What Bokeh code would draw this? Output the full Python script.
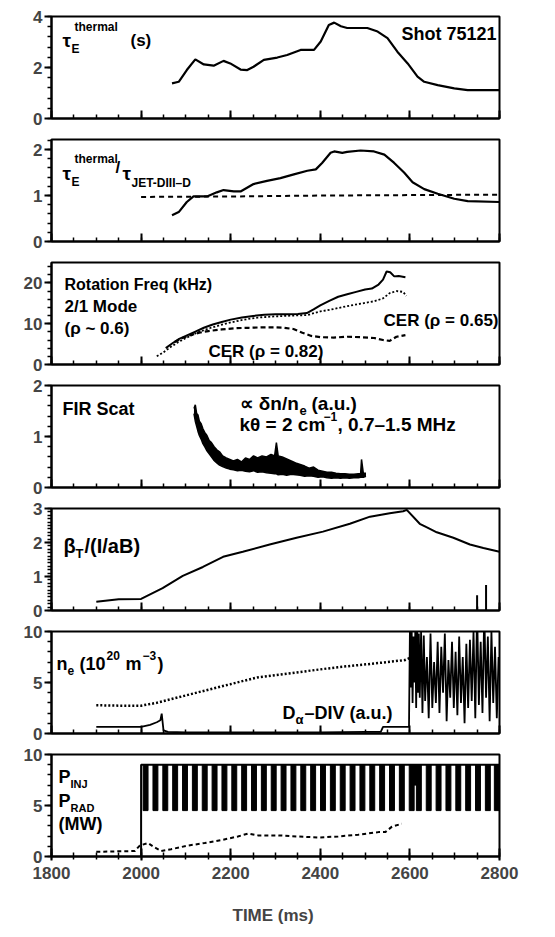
from bokeh.plotting import figure
from bokeh.layouts import column
from bokeh.models import Range1d, SingleIntervalTicker, Label
from bokeh.embed import file_html
from bokeh.resources import INLINE

FONT = "Liberation Sans"

# ---------------- data ----------------
# Panel 1: tau_E thermal (s)
tau_t = [2069, 2084, 2102, 2121, 2140, 2162, 2184, 2199, 2222, 2237, 2251, 2274, 2304, 2326, 2356, 2386,
         2401, 2419, 2431, 2446, 2460, 2505, 2528, 2550, 2572, 2595, 2617, 2632, 2662, 2699, 2729, 2800]
tau_v = [1.38, 1.44, 1.90, 2.32, 2.12, 2.07, 2.26, 2.16, 1.92, 1.90, 2.03, 2.30, 2.39, 2.49, 2.69, 2.69,
         3.02, 3.67, 3.76, 3.62, 3.55, 3.55, 3.41, 3.15, 2.62, 2.16, 1.64, 1.44, 1.31, 1.18, 1.11, 1.11]

# Panel 2: tau_E / tau_JET-DIII-D
ratio_t = [2069, 2084, 2102, 2117, 2147, 2169, 2184, 2207, 2222, 2251, 2281, 2311, 2341, 2371, 2390, 2404,
           2423, 2431, 2449, 2460, 2490, 2520, 2543, 2565, 2587, 2606, 2632, 2662, 2699, 2729, 2800]
ratio_v = [0.57, 0.64, 0.86, 0.98, 0.98, 1.07, 1.12, 1.09, 1.09, 1.25, 1.32, 1.38, 1.46, 1.54, 1.57, 1.71,
           1.93, 1.96, 1.93, 1.95, 1.98, 1.96, 1.89, 1.71, 1.50, 1.29, 1.14, 1.04, 0.93, 0.88, 0.86]
jet_t = [2000, 2200, 2400, 2600, 2800]
jet_v = [0.97, 0.98, 1.00, 1.01, 1.02]

# Panel 3: rotation frequency (kHz)
mode_t = [2055, 2070, 2085, 2100, 2120, 2140, 2160, 2180, 2200, 2225, 2250, 2275, 2300, 2325, 2350, 2370,
          2385, 2400, 2420, 2440, 2460, 2480, 2500, 2515, 2530, 2540, 2548, 2556, 2565, 2575, 2590]
mode_v = [4.0, 5.2, 6.3, 7.0, 8.0, 9.0, 9.8, 10.4, 11.0, 11.5, 11.9, 12.2, 12.3, 12.3, 12.4, 12.6,
          13.5, 14.5, 15.6, 16.6, 17.2, 17.8, 18.4, 18.6, 19.6, 20.8, 22.8, 22.6, 21.6, 21.7, 21.4]
cer65_t = [2035, 2050, 2065, 2080, 2100, 2125, 2150, 2175, 2200, 2230, 2260, 2300, 2340, 2370, 2400, 2430,
           2460, 2490, 2520, 2540, 2555, 2570, 2585, 2592]
cer65_v = [2.0, 3.0, 4.2, 5.3, 6.5, 7.8, 8.8, 9.6, 10.3, 11.0, 11.5, 11.8, 12.0, 12.1, 13.0, 13.6,
           14.3, 14.9, 15.5, 16.2, 17.5, 18.0, 17.8, 16.8]
cer82_t = [2075, 2090, 2110, 2130, 2150, 2180, 2210, 2240, 2270, 2300, 2320, 2340, 2360, 2380, 2400, 2430,
           2460, 2490, 2520, 2540, 2555, 2570, 2590]
cer82_v = [5.5, 6.4, 7.2, 7.8, 8.2, 8.6, 8.9, 9.0, 9.1, 9.1, 9.0, 8.7, 7.8, 7.0, 6.7, 6.6,
           6.8, 6.7, 6.5, 6.0, 5.8, 6.8, 7.2]

# Panel 4: FIR scattering band (upper / lower envelope)
fir_t = [2118, 2121, 2124, 2127, 2130, 2134, 2138, 2142, 2147, 2152, 2157, 2163, 2169, 2175, 2182, 2190,
         2198, 2206, 2215, 2224, 2233, 2242, 2251, 2260, 2270, 2280, 2290, 2298, 2302, 2306, 2315, 2325,
         2335, 2345, 2355, 2365, 2375, 2385, 2395, 2405, 2415, 2425, 2435, 2445, 2455, 2465, 2475, 2485,
         2490, 2492, 2496, 2502]
fir_hi = [1.55, 1.62, 1.45, 1.42, 1.30, 1.25, 1.15, 1.08, 1.02, 0.92, 0.88, 0.80, 0.74, 0.70, 0.62, 0.58,
          0.55, 0.52, 0.55, 0.50, 0.58, 0.55, 0.62, 0.58, 0.62, 0.60, 0.65, 0.62, 0.88, 0.62, 0.60, 0.56,
          0.52, 0.48, 0.45, 0.42, 0.38, 0.40, 0.34, 0.32, 0.30, 0.30, 0.28, 0.27, 0.27, 0.26, 0.26, 0.27,
          0.27, 0.55, 0.28, 0.28]
fir_lo = [1.45, 1.30, 1.20, 1.10, 1.02, 0.95, 0.86, 0.80, 0.72, 0.66, 0.60, 0.53, 0.48, 0.44, 0.41, 0.38,
          0.36, 0.35, 0.33, 0.34, 0.32, 0.31, 0.33, 0.30, 0.31, 0.29, 0.28, 0.27, 0.27, 0.25, 0.26, 0.24,
          0.26, 0.25, 0.24, 0.22, 0.23, 0.22, 0.20, 0.21, 0.19, 0.18, 0.19, 0.18, 0.19, 0.18, 0.19, 0.19,
          0.20, 0.20, 0.20, 0.22]

# Panel 5: beta_T / (I/aB)
beta_t = [1900, 1950, 2000, 2048, 2093, 2138, 2183, 2227, 2287, 2347, 2406, 2466, 2511, 2555, 2585, 2593,
          2622, 2637, 2660, 2697, 2734, 2764, 2800]
beta_v = [0.26, 0.33, 0.34, 0.66, 1.02, 1.28, 1.58, 1.73, 1.94, 2.14, 2.32, 2.55, 2.76, 2.86, 2.92, 2.96,
          2.55, 2.45, 2.30, 2.14, 1.94, 1.84, 1.73]
overflow_t = [2750, 2770]          # D-alpha spikes that run past the n_e panel
overflow_v = [0.45, 0.75]

# Panel 6: n_e and D_alpha
ne_t = [1900, 1950, 2000, 2034, 2079, 2139, 2199, 2259, 2319, 2379, 2439, 2514, 2589, 2600]
ne_v = [2.77, 2.73, 2.73, 3.0, 3.5, 4.17, 4.83, 5.5, 5.83, 6.17, 6.5, 6.83, 7.2, 7.4]
da_t = [1900, 1950, 2000, 2020, 2035, 2043, 2046, 2050, 2060, 2100, 2200, 2300, 2400, 2500, 2535, 2540, 2598,
        2600, 2602, 2604, 2606, 2608, 2610, 2612, 2614, 2616, 2618,
        2620, 2622, 2625, 2628, 2631, 2634, 2638, 2642, 2646, 2650,
        2654, 2658, 2662, 2666, 2670, 2674, 2678, 2682, 2686, 2690,
        2694, 2698, 2702, 2706, 2710, 2714, 2718, 2722, 2726, 2730,
        2734, 2738, 2742, 2746, 2750, 2754, 2758, 2762, 2766, 2770,
        2774, 2778, 2782, 2786, 2790, 2794, 2798]
da_v = [0.65, 0.65, 0.65, 0.85, 1.1, 1.3, 1.95, 0.3, 0.15, 0.1, 0.1, 0.12, 0.12, 0.15, 0.15, 0.65, 0.65,
        10, 4.5, 10, 3.0, 9.5, 5.0, 10, 2.5, 10, 4.0,
        9.8, 3.5, 10, 2.0, 9.6, 3.2, 7.5, 1.5, 9.8, 2.5,
        7.0, 3.0, 9.0, 2.0, 8.5, 4.0, 9.8, 1.2, 7.2, 3.5,
        9.0, 2.5, 8.0, 1.8, 9.5, 3.0, 7.5, 1.0, 8.8, 2.5,
        9.2, 3.2, 10, 1.5, 12, 2.8, 9.0, 2.0, 12, 3.5,
        9.5, 1.2, 10, 3.0, 8.5, 1.5, 7.5]

# Panel 7: P_INJ and P_RAD (MW)
pinj_t = [2000, 2000, 2800]
pinj_v = [0, 9, 9]
pinj_bar_t = [2010, 2032, 2054, 2076, 2098, 2120, 2142, 2164, 2186, 2208, 2230, 2252, 2274, 2296, 2318,
              2340, 2362, 2384, 2406, 2428, 2450, 2472, 2494, 2516, 2538, 2560, 2582, 2604, 2620, 2642,
              2664, 2686, 2708, 2730, 2752, 2774, 2794]
pinj_low = 4.5
pinj_high = 9.0
pinj_dip_t = [2612]      # short stretch near 2610 ms where the modulated power only drops to ~7 MW
pinj_dip_w = [18]
pinj_dip_v = [7.0]
prad_t = [1900, 1986, 1997, 2015, 2030, 2045, 2067, 2104, 2142, 2179, 2216, 2239, 2261, 2306, 2351, 2396,
          2440, 2485, 2530, 2545, 2560, 2582]
prad_v = [0.46, 0.54, 1.07, 1.32, 0.89, 0.54, 0.71, 1.07, 1.32, 1.61, 1.96, 2.25, 2.07, 2.07, 1.96, 1.86,
          1.96, 2.14, 2.39, 2.39, 2.93, 3.21]

x_ticks = [1800, 2000, 2200, 2400, 2600, 2800]
y_max = [4, 2.22, 25, 2, 3, 10, 10]
y_step = [2, 1, 10, 1, 1, 5, 5]
y_minor = [5, 5, 5, 5, 10, 5, 5]

# ---------------- layout helpers ----------------
FRAME_L = 51
FRAME_W = 448
FRAME_H = 102
TOPS = [16, 139, 262, 385, 508, 631, 754]   # page pixel of each frame top
x_range = Range1d(1800, 2800)


def px2x(px):
    return 1800 + (px - FRAME_L) * 1000.0 / FRAME_W


def py2y(k, py):
    return y_max[k] * (TOPS[k] + FRAME_H - py) / FRAME_H


def make_fig(k):
    last = (k == 6)
    p = figure(frame_width=FRAME_W, frame_height=FRAME_H, x_range=x_range, y_range=Range1d(0, y_max[k]),
               output_backend="svg", toolbar_location=None,
               min_border_left=FRAME_L, min_border_right=30,
               min_border_top=(16 if k == 0 else 10), min_border_bottom=(78 if last else 11))
    p.background_fill_color = "white"
    p.border_fill_color = "white"
    p.outline_line_color = "black"
    p.outline_line_width = 2
    p.xgrid.visible = False
    p.ygrid.visible = False

    xa = p.xaxis[0]
    xa.ticker = SingleIntervalTicker(interval=200, num_minor_ticks=4)
    xa.axis_line_width = 2
    xa.major_tick_line_width = 2
    xa.minor_tick_line_width = 1.5
    xa.major_tick_in = 8
    xa.minor_tick_in = 4
    if last:
        xa.major_tick_out = 4
        xa.minor_tick_out = 3
        xa.major_label_text_font = FONT
        xa.major_label_text_font_size = "17px"
        xa.major_label_text_font_style = "bold"
        xa.major_label_standoff = 6
        xa.axis_label = "TIME  (ms)"
        xa.axis_label_text_font = FONT
        xa.axis_label_text_font_size = "17px"
        xa.axis_label_text_font_style = "bold"
        xa.axis_label_standoff = 24
    else:
        xa.major_tick_out = 0
        xa.minor_tick_out = 0
        xa.major_label_text_color = None
        xa.major_label_text_font_size = "0px"
        xa.major_label_standoff = 0

    ya = p.yaxis[0]
    ya.ticker = SingleIntervalTicker(interval=y_step[k], num_minor_ticks=y_minor[k])
    ya.axis_line_width = 2
    ya.major_tick_line_width = 2
    ya.minor_tick_line_width = 1.5
    ya.major_tick_out = 7
    ya.major_tick_in = 0
    ya.minor_tick_out = 4
    ya.minor_tick_in = 0
    ya.major_label_text_font = FONT
    ya.major_label_text_font_size = "17px"
    ya.major_label_text_font_style = "bold"
    ya.major_label_standoff = 2
    return p


def lab(p, k, px, py, text, size=17, align="left"):
    p.add_layout(Label(x=px2x(px), y=py2y(k, py), text=text, text_font=FONT,
                       text_font_size=f"{size}px", text_font_style="bold", text_color="black",
                       text_align=align, text_baseline="middle"))


figs = [make_fig(k) for k in range(7)]
p1, p2, p3, p4, p5, p6, p7 = figs

# Panel 1
p1.line(tau_t, tau_v, line_color="black", line_width=2.2)
lab(p1, 0, 62, 40, "τ", 19)
lab(p1, 0, 71, 48, "E", 12)
lab(p1, 0, 74, 26, "thermal", 12)
lab(p1, 0, 130, 40, "(s)", 17)
lab(p1, 0, 496, 33, "Shot 75121", 18, "right")

# Panel 2
p2.line(ratio_t, ratio_v, line_color="black", line_width=2.2)
p2.line(jet_t, jet_v, line_color="black", line_width=2, line_dash="5 4")
lab(p2, 1, 62, 173, "τ", 19)
lab(p2, 1, 71, 181, "E", 12)
lab(p2, 1, 74, 158, "thermal", 12)
lab(p2, 1, 115, 167, "/", 17)
lab(p2, 1, 122, 173, "τ", 19)
lab(p2, 1, 131, 182, "JET-DIII–D", 12)

# Panel 3
p3.line(mode_t, mode_v, line_color="black", line_width=2)
p3.line(cer65_t, cer65_v, line_color="black", line_width=1.8, line_dash="2 2")
p3.line(cer82_t, cer82_v, line_color="black", line_width=2.2, line_dash="5 3")
lab(p3, 2, 64, 284, "Rotation Freq (kHz)", 16)
lab(p3, 2, 64, 306, "2/1 Mode", 17)
lab(p3, 2, 64, 328, "(ρ ~ 0.6)", 17)
lab(p3, 2, 498, 320, "CER (ρ = 0.65)", 17, "right")
lab(p3, 2, 208, 351, "CER (ρ = 0.82)", 17)

# Panel 4
p4.varea(x=fir_t, y1=fir_lo, y2=fir_hi, fill_color="black")
p4.line(fir_t, fir_hi, line_color="black", line_width=1.5)
p4.line(fir_t, fir_lo, line_color="black", line_width=1.5)
lab(p4, 3, 62, 408, "FIR Scat", 18)
lab(p4, 3, 239, 403, "∝ δn/n", 19)
lab(p4, 3, 299, 410, "e", 13)
lab(p4, 3, 311, 403, "(a.u.)", 19)
lab(p4, 3, 239, 424, "kθ = 2 cm", 19)
lab(p4, 3, 323, 416, "−1", 12)
lab(p4, 3, 337, 424, ", 0.7–1.5 MHz", 19)

# Panel 5
p5.line(beta_t, beta_v, line_color="black", line_width=2)
p5.segment(x0=overflow_t, y0=[0, 0], x1=overflow_t, y1=overflow_v, line_color="black", line_width=2)
lab(p5, 4, 63, 545, "β", 20)
lab(p5, 4, 75, 553, "T", 13)
lab(p5, 4, 84, 545, "/(I/aB)", 20)

# Panel 6
p6.line(da_t, da_v, line_color="black", line_width=1.8)
p6.line(ne_t, ne_v, line_color="black", line_width=2.5, line_dash="2 2")
lab(p6, 5, 56, 663, "n", 18)
lab(p6, 5, 67, 670, "e", 12)
lab(p6, 5, 79, 663, "(10", 18)
lab(p6, 5, 106, 655, "20", 12)
lab(p6, 5, 125, 663, "m", 18)
lab(p6, 5, 142, 655, "−3", 12)
lab(p6, 5, 157, 663, ")", 18)
lab(p6, 5, 282, 712, "D", 18)
lab(p6, 5, 295, 719, "α", 13)
lab(p6, 5, 304, 712, "–DIV (a.u.)", 18)

# Panel 7
p7.vbar(x=pinj_bar_t, width=11, bottom=pinj_low, top=pinj_high, fill_color="black", line_color="black")
p7.vbar(x=pinj_dip_t, width=pinj_dip_w, bottom=pinj_dip_v, top=pinj_high, fill_color="black", line_color="black")
p7.line(pinj_t, pinj_v, line_color="black", line_width=2)
p7.line(prad_t, prad_v, line_color="black", line_width=2, line_dash="4 3")
lab(p7, 6, 58, 776, "P", 18)
lab(p7, 6, 70, 783, "INJ", 11)
lab(p7, 6, 58, 800, "P", 18)
lab(p7, 6, 70, 807, "RAD", 11)
lab(p7, 6, 58, 823, "(MW)", 18)

layout = column(*figs)
open("out.html", "w").write(file_html(layout, INLINE))
